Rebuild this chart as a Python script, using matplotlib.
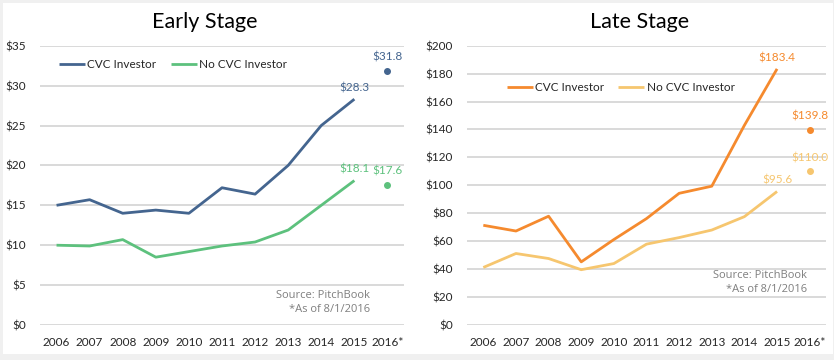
import matplotlib
matplotlib.use("Agg")
import matplotlib.pyplot as plt
from matplotlib.patches import Rectangle

years = ["2006", "2007", "2008", "2009", "2010", "2011", "2012", "2013", "2014", "2015", "2016*"]

early_cvc = [15.0, 15.7, 14.0, 14.4, 14.0, 17.2, 16.4, 20.0, 25.0, 28.3]
early_nocvc = [10.0, 9.9, 10.7, 8.5, 9.2, 9.9, 10.4, 11.9, 15.0, 18.1]
early_cvc_2016 = 31.8
early_nocvc_2016 = 17.6

late_cvc = [71.4, 67.3, 77.9, 45.2, 61.2, 76.2, 94.3, 99.4, 143.0, 183.4]
late_nocvc = [41.2, 51.2, 47.6, 39.6, 44.0, 57.9, 62.6, 68.0, 77.6, 95.6]
late_cvc_2016 = 139.8
late_nocvc_2016 = 110.0

early_yticks = [0, 5, 10, 15, 20, 25, 30, 35]
late_yticks = [0, 20, 40, 60, 80, 100, 120, 140, 160, 180, 200]

C_BLUE = "#44658F"
C_GREEN = "#5DC17D"
C_ORANGE = "#F58A2E"
C_YELLOW = "#F6C66F"
GRID = "#d9d9d9"
TXT = "#262626"

W, H = 834, 360
fig = plt.figure(figsize=(W / 100, H / 100), dpi=100)
fig.patch.set_facecolor("#f0f0f0")
fig.patches.append(Rectangle((3 / W, 6 / H), 830 / W, 351 / H, transform=fig.transFigure,
                             facecolor="white", edgecolor="none", zorder=-10))

FONT = ["Lato", "DejaVu Sans"]
SRCFONT = ["Open Sans", "DejaVu Sans"]


def make_panel(rect, title, title_x, s1, s2, d1, d2, c1, c2, yticks, ymax,
               leg_anchor, src_x, src_y, fmt):
    ax = fig.add_axes(rect)
    ax.set_facecolor("none")
    x = list(range(len(s1)))
    ax.plot(x, s1, color=c1, lw=2.0, label="CVC Investor", solid_capstyle="butt", zorder=3)
    ax.plot(x, s2, color=c2, lw=2.0, label="No CVC Investor", solid_capstyle="butt", zorder=3)
    n = len(years) - 1
    ax.plot([n], [d1], "o", color=c1, ms=4, zorder=3)
    ax.plot([n], [d2], "o", color=c2, ms=4, zorder=3)
    for xi, v, c, off in [(len(s1) - 1, s1[-1], c1, 0.02), (len(s2) - 1, s2[-1], c2, 0.02),
                          (n, d1, c1, 0.03), (n, d2, c2, 0.03)]:
        ax.text(xi, v + off * ymax, fmt.format(v), color=c, ha="center", va="bottom",
                fontsize=8.5, family=FONT)
    ax.set_xlim(-0.5, 10.5)
    ax.set_ylim(0, ymax)
    ax.set_yticks(yticks)
    ax.set_yticklabels(["${}".format(t) for t in yticks])
    ax.set_xticks(range(len(years)))
    ax.set_xticklabels(years)
    for lab in ax.get_xticklabels() + ax.get_yticklabels():
        lab.set_family(FONT)
        lab.set_fontsize(8.5)
        lab.set_color(TXT)
    ax.tick_params(length=0)
    ax.tick_params(axis="y", pad=10)
    ax.tick_params(axis="x", pad=9)
    ax.grid(axis="y", color=GRID, lw=1.4)
    ax.set_axisbelow(True)
    for sp in ax.spines.values():
        sp.set_visible(False)
    leg = ax.legend(loc="center left", bbox_to_anchor=leg_anchor, ncol=2, frameon=False,
                    handlelength=2.2, handletextpad=0.2, columnspacing=1.2,
                    borderpad=0, borderaxespad=0, prop={"family": FONT, "size": 8.5})
    for t in leg.get_texts():
        t.set_color(TXT)
    fig.text(title_x / W, 1 - 22 / H, title, ha="center", va="center", fontsize=15.5,
             family=FONT, color="black")
    fig.text(src_x / W, 1 - src_y / H, "Source: PitchBook", ha="right", va="center",
             fontsize=8, family=SRCFONT, color="#7f7f7f")
    fig.text(src_x / W, 1 - (src_y + 14) / H, "*As of 8/1/2016", ha="right", va="center",
             fontsize=8, family=SRCFONT, color="#7f7f7f")
    return ax


bottom = (H - 325) / H
height = (325 - 45.7) / H
make_panel([40 / W, bottom, 364 / W, height], "Early Stage", 205,
           early_cvc, early_nocvc, early_cvc_2016, early_nocvc_2016, C_BLUE, C_GREEN,
           early_yticks, 35, (0.052, 0.931), 370, 296, "${:.1f}")
make_panel([467 / W, bottom, 359 / W, height], "Late Stage", 640,
           late_cvc, late_nocvc, late_cvc_2016, late_nocvc_2016, C_ORANGE, C_YELLOW,
           late_yticks, 200, (0.111, 0.849), 807, 276, "${:.1f}")

fig.savefig("out.png", dpi=100, facecolor=fig.get_facecolor())
